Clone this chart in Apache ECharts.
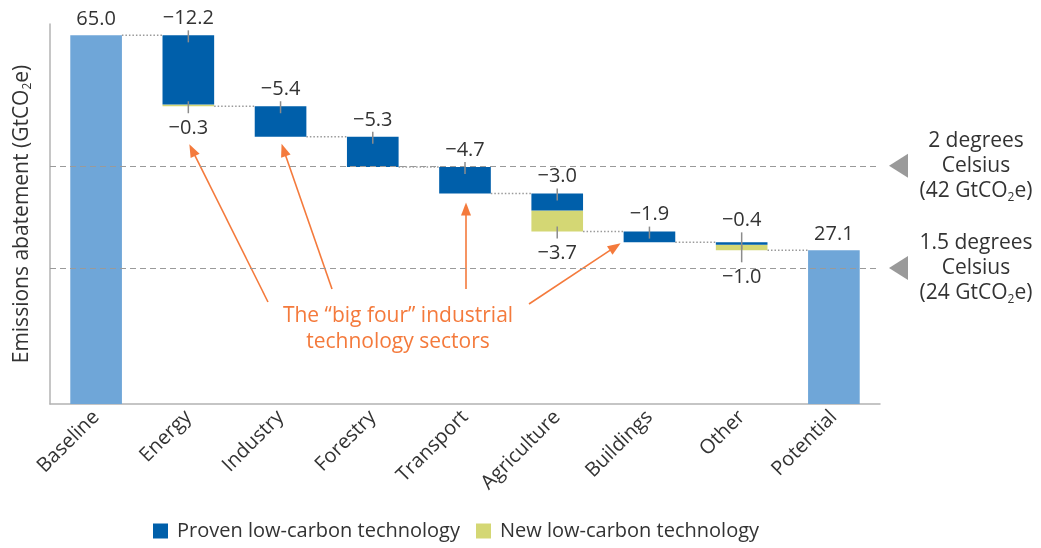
<!DOCTYPE html>
<html>
<head>
<meta charset="utf-8">
<script src="https://cdn.jsdelivr.net/npm/echarts@6/dist/echarts.min.js"></script>
<style>
  html, body { margin: 0; padding: 0; background: #fff; }
  #main { width: 1041px; height: 548px; }
</style>
</head>
<body>
<div id="main"></div>
<script>
// data
const categories = ['Baseline', 'Energy', 'Industry', 'Forestry', 'Transport', 'Agriculture', 'Buildings', 'Other', 'Potential']
const baseline = 65.0
const potential = 27.1
// sectors Energy .. Other
const proven = [12.2, 5.4, 5.3, 4.7, 3.0, 1.9, 0.4]
const newTech = [0.3, 0, 0, 0, 3.7, 0, 1.0]
const targets = [42, 24]
const targetNames = [['2 degrees', 'Celsius', '42'], ['1.5 degrees', 'Celsius', '24']]

const FONT = '"Open Sans", "Noto Sans", sans-serif'
const FS = 20
const C_PROVEN = '#005faa'
const C_NEW = '#d4d774'
const C_TOTAL = '#6fa6d8'
const C_ORANGE = '#f47a3c'
const C_TEXT = '#333333'
const BAR_W = 0.56

const r1 = v => Math.round(v * 10) / 10

// running levels
const levels = [baseline]
proven.forEach((p, k) => {
  levels.push(r1(levels[k] - p - newTech[k]))
})

const baseData = [0].concat(levels.slice(1), [0])
const newData = ['-'].concat(newTech.map(v => v > 0 ? v : '-'), ['-'])
const provenData = ['-'].concat(proven, ['-'])
const totalData = [baseline].concat(proven.map(() => '-'), [potential])

// value labels with small ticks
const marks = []
proven.forEach((p, k) => {
  marks.push({ i: k + 1, edge: levels[k], text: '\u2212' + p.toFixed(1), side: 'top' })
  if (newTech[k] > 0) {
    marks.push({ i: k + 1, edge: levels[k + 1], text: '\u2212' + newTech[k].toFixed(1), side: 'bottom' })
  }
})

const chart = echarts.init(document.getElementById('main'))

const option = {
  animation: false,
  textStyle: { fontFamily: FONT },
  grid: { left: 50, right: 161, top: 24, bottom: 144 },
  legend: {
    left: 148,
    bottom: 2,
    icon: 'rect',
    itemWidth: 15,
    itemHeight: 15,
    itemGap: 16,
    data: ['Proven low-carbon technology', 'New low-carbon technology'],
    textStyle: { color: C_TEXT, fontSize: FS, fontFamily: FONT, padding: [0, 0, 0, 4] }
  },
  xAxis: {
    type: 'category',
    data: categories,
    axisLine: { lineStyle: { color: '#b3b3b3', width: 1.5 } },
    axisTick: { length: 6, lineStyle: { color: '#b3b3b3', width: 1.5 } },
    axisLabel: { rotate: 45, margin: 10, color: C_TEXT, fontSize: FS, fontFamily: FONT }
  },
  yAxis: {
    type: 'value',
    min: 0,
    max: 67,
    name: '{a|Emissions abatement (GtCO}{s|2}{a|e)}',
    nameLocation: 'middle',
    nameGap: 16,
    nameTextStyle: {
      rich: {
        a: { fontSize: 21, color: C_TEXT, fontFamily: FONT, lineHeight: 24, verticalAlign: 'middle' },
        s: { fontSize: 12, color: C_TEXT, fontFamily: FONT, lineHeight: 12, verticalAlign: 'bottom' }
      }
    },
    axisLine: { show: true, lineStyle: { color: '#b3b3b3', width: 1.5 } },
    axisTick: { show: false },
    axisLabel: { show: false },
    splitLine: { show: false }
  },
  series: [
    {
      name: 'base',
      type: 'bar',
      stack: 'w',
      barWidth: BAR_W * 100 + '%',
      itemStyle: { color: 'transparent' },
      silent: true,
      data: baseData,
      markLine: {
        silent: true,
        symbol: 'none',
        label: { show: false },
        lineStyle: { color: '#9a9a9a', type: [6, 4], width: 1.2 },
        data: targets.map(t => ({ yAxis: t }))
      }
    },
    {
      name: 'New low-carbon technology',
      type: 'bar',
      stack: 'w',
      itemStyle: { color: C_NEW },
      data: newData
    },
    {
      name: 'Proven low-carbon technology',
      type: 'bar',
      stack: 'w',
      itemStyle: { color: C_PROVEN },
      data: provenData
    },
    {
      name: 'total',
      type: 'bar',
      stack: 'w',
      itemStyle: { color: C_TOTAL },
      label: {
        show: true,
        position: 'top',
        distance: 6,
        color: C_TEXT,
        fontSize: FS,
        fontFamily: FONT,
        formatter: p => p.value.toFixed(1)
      },
      data: totalData
    },
    {
      // dotted connectors between bars
      name: 'connectors',
      type: 'custom',
      silent: true,
      data: levels.map((v, i) => [i, v]),
      renderItem: function (params, api) {
        const p = api.coord([api.value(0), api.value(1)])
        const w = api.size([1, 0])[0]
        const bw = w * BAR_W
        return {
          type: 'line',
          shape: { x1: p[0] + bw / 2, y1: p[1], x2: p[0] + w - bw / 2, y2: p[1] },
          style: { stroke: '#9a9a9a', lineWidth: 1.5, lineDash: [1.5, 2] }
        }
      }
    },
    {
      // labels + small ticks
      name: 'labels',
      type: 'custom',
      silent: true,
      data: marks.map(m => [m.i, m.edge]),
      renderItem: function (params, api) {
        const m = marks[params.dataIndex]
        const p = api.coord([api.value(0), api.value(1)])
        const extra = m.i === 7 ? 5 : 0
        let y1, y2, ty
        if (m.side === 'top') {
          y1 = p[1] - 5 - extra; y2 = p[1] + 7; ty = p[1] - 17 - extra
        } else {
          y1 = p[1] - 5; y2 = p[1] + 7 + extra; ty = p[1] + 22 + extra
        }
        return {
          type: 'group',
          children: [
            {
              type: 'line',
              shape: { x1: p[0], y1: y1, x2: p[0], y2: y2 },
              style: { stroke: '#8c8c8c', lineWidth: 1.5 },
              z2: 10
            },
            {
              type: 'text',
              style: {
                text: m.text, x: p[0], y: ty,
                align: 'center', verticalAlign: 'middle',
                fontSize: FS, fontFamily: FONT, fill: C_TEXT
              }
            }
          ]
        }
      }
    }
  ]
}

chart.setOption(option)

// annotations
const px = (i, v) => chart.convertToPixel({ xAxisIndex: 0, yAxisIndex: 0 }, [i, v])
const catW = px(1, 0)[0] - px(0, 0)[0]
const gridRight = 1041 - 161

function arrow (tail, tip) {
  const dx = tip[0] - tail[0]
  const dy = tip[1] - tail[1]
  const len = Math.sqrt(dx * dx + dy * dy)
  const ux = dx / len
  const uy = dy / len
  const hl = 13
  const hw = 5
  const bx = tip[0] - ux * hl
  const by = tip[1] - uy * hl
  return [
    {
      type: 'line',
      shape: { x1: tail[0], y1: tail[1], x2: bx + ux * 2, y2: by + uy * 2 },
      style: { stroke: C_ORANGE, lineWidth: 1.6 }
    },
    {
      type: 'polygon',
      shape: { points: [tip, [bx - uy * hw, by + ux * hw], [bx + uy * hw, by - ux * hw]] },
      style: { fill: C_ORANGE }
    }
  ]
}

const tipEnergy = [px(1, 0)[0] + 1, px(1, levels[1])[1] + 38]
const tipIndustry = [px(2, 0)[0] + 1, px(2, levels[2])[1] + 7]
const tipTransport = [px(4, 0)[0] + 1, px(4, levels[4])[1] + 9]
const tipBuildings = [px(6, 0)[0] - catW * BAR_W / 2 - 3, px(6, levels[6])[1] + 1]

const graphics = []
  .concat(arrow([268, 302], tipEnergy))
  .concat(arrow([332, 289], tipIndustry))
  .concat(arrow([tipTransport[0], 289], tipTransport))
  .concat(arrow([529, 304], tipBuildings))

graphics.push({
  type: 'text',
  style: {
    text: 'The \u201cbig four\u201d industrial\ntechnology sectors',
    x: 398, y: 329,
    align: 'center', verticalAlign: 'middle',
    fontSize: 21, lineHeight: 26, fontFamily: FONT, fill: C_ORANGE
  }
})

targets.forEach((t, k) => {
  const y = px(0, t)[1]
  graphics.push({
    type: 'polygon',
    shape: { points: [[gridRight + 9, y], [gridRight + 28, y - 12], [gridRight + 28, y + 12]] },
    style: { fill: '#9a9a9a' }
  })
  const nm = targetNames[k]
  graphics.push({
    type: 'text',
    style: {
      text: '{a|' + nm[0] + '}\n{a|' + nm[1] + '}\n{a|(' + nm[2] + ' GtCO}{s|2}{a|e)}',
      x: 976, y: y,
      align: 'center', verticalAlign: 'middle',
      rich: {
        a: { fontSize: 21, lineHeight: 25, fontFamily: FONT, fill: C_TEXT, verticalAlign: 'middle' },
        s: { fontSize: 12, lineHeight: 12, fontFamily: FONT, fill: C_TEXT, verticalAlign: 'bottom' }
      }
    }
  })
})

chart.setOption({ graphic: graphics })
</script>
</body>
</html>
